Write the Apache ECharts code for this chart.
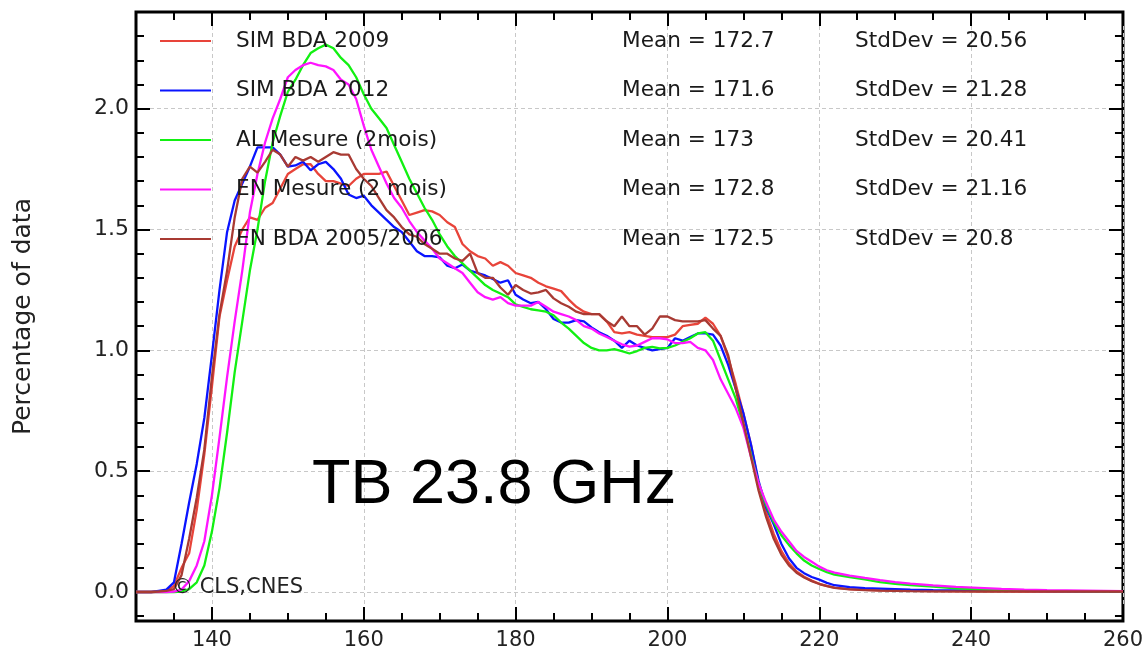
<!DOCTYPE html>
<html>
<head>
<meta charset="utf-8">
<script src="https://cdn.jsdelivr.net/npm/echarts@6/dist/echarts.min.js"></script>
<style>
  html, body { margin: 0; padding: 0; background: #fff; }
  #main { width: 1146px; height: 656px; }
</style>
</head>
<body>
<div id="main"></div>
<script>
// brightness temperature (K)
var tb = [
  130, 131, 132, 133, 134, 135, 136, 137, 138, 139,
  140, 141, 142, 143, 144, 145, 146, 147, 148, 149,
  150, 151, 152, 153, 154, 155, 156, 157, 158, 159,
  160, 161, 162, 163, 164, 165, 166, 167, 168, 169,
  170, 171, 172, 173, 174, 175, 176, 177, 178, 179,
  180, 181, 182, 183, 184, 185, 186, 187, 188, 189,
  190, 191, 192, 193, 194, 195, 196, 197, 198, 199,
  200, 201, 202, 203, 204, 205, 206, 207, 208, 209,
  210, 211, 212, 213, 214, 215, 216, 217, 218, 219,
  220, 221, 222,
  224, 226, 228, 230, 232, 235, 238, 241, 244, 247, 250, 255, 260
];

var simBda2009 = [
  0, 0, 0, 0.002, 0.005, 0.025, 0.10, 0.16, 0.34, 0.57,
  0.85, 1.14, 1.29, 1.43, 1.50, 1.55, 1.54, 1.59, 1.61, 1.67,
  1.73, 1.75, 1.77, 1.77, 1.73, 1.70, 1.70, 1.69, 1.68, 1.71,
  1.73, 1.73, 1.73, 1.74, 1.68, 1.62, 1.56, 1.57, 1.58, 1.575,
  1.56, 1.53, 1.51, 1.44, 1.41, 1.39, 1.38, 1.35, 1.365, 1.35,
  1.32, 1.31, 1.30, 1.28, 1.265, 1.255, 1.245, 1.21, 1.18, 1.16,
  1.15, 1.15, 1.12, 1.075, 1.07, 1.075, 1.065, 1.06, 1.055, 1.055,
  1.055, 1.065, 1.10, 1.105, 1.11, 1.135, 1.11, 1.06, 0.97, 0.86,
  0.74, 0.61, 0.45, 0.33, 0.24, 0.17, 0.12, 0.085, 0.063, 0.047,
  0.034, 0.025, 0.018,
  0.012, 0.009, 0.007, 0.006, 0.005, 0.004, 0.003, 0.003, 0.003, 0.002, 0.002, 0.002, 0.002
];

var simBda2012 = [
  0, 0, 0, 0.005, 0.01, 0.04, 0.20, 0.37, 0.53, 0.72,
  0.98, 1.25, 1.49, 1.62, 1.69, 1.76, 1.84, 1.84, 1.84, 1.81,
  1.76, 1.765, 1.78, 1.745, 1.77, 1.78, 1.75, 1.71, 1.645, 1.63,
  1.64, 1.60, 1.57, 1.54, 1.51, 1.49, 1.45, 1.41, 1.39, 1.39,
  1.385, 1.35, 1.34, 1.355, 1.33, 1.32, 1.31, 1.295, 1.28, 1.29,
  1.23, 1.21, 1.195, 1.20, 1.17, 1.13, 1.115, 1.115, 1.125, 1.12,
  1.095, 1.075, 1.06, 1.04, 1.01, 1.04, 1.02, 1.01, 1.0, 1.005,
  1.01, 1.05, 1.04, 1.055, 1.07, 1.07, 1.065, 1.02, 0.94, 0.84,
  0.74, 0.61, 0.46, 0.35, 0.28, 0.20, 0.14, 0.10, 0.078, 0.062,
  0.051, 0.038, 0.028,
  0.020, 0.016, 0.014, 0.012, 0.010, 0.008, 0.007, 0.006, 0.005, 0.005, 0.004, 0.003, 0.003
];

var alMesure = [
  0, 0, 0, 0, 0, 0, 0.002, 0.012, 0.04, 0.11,
  0.25, 0.43, 0.66, 0.91, 1.12, 1.33, 1.50, 1.70, 1.86, 1.97,
  2.07, 2.12, 2.18, 2.23, 2.25, 2.265, 2.25, 2.21, 2.18, 2.13,
  2.06, 2.00, 1.96, 1.92, 1.85, 1.78, 1.71, 1.65, 1.59, 1.54,
  1.48, 1.43, 1.39, 1.36, 1.33, 1.30, 1.27, 1.25, 1.235, 1.22,
  1.19, 1.18, 1.17, 1.165, 1.16, 1.145, 1.115, 1.09, 1.06, 1.03,
  1.01, 1.0, 1.0, 1.005, 0.997, 0.987, 0.997, 1.01, 1.014, 1.008,
  1.01, 1.02, 1.035, 1.05, 1.07, 1.075, 1.04, 0.96, 0.88, 0.80,
  0.69, 0.57, 0.45, 0.36, 0.29, 0.235, 0.195, 0.16, 0.13, 0.11,
  0.095, 0.082, 0.072,
  0.062, 0.052, 0.041, 0.034, 0.029, 0.022, 0.015, 0.011, 0.008, 0.006, 0.005, 0.004, 0.003
];

var enMesure = [
  0, 0, 0, 0, 0, 0.002, 0.01, 0.045, 0.11, 0.21,
  0.40, 0.64, 0.89, 1.12, 1.33, 1.57, 1.73, 1.86, 1.96, 2.04,
  2.13, 2.16, 2.18, 2.19, 2.18, 2.175, 2.16, 2.12, 2.10, 2.04,
  1.93, 1.83, 1.76, 1.69, 1.63, 1.59, 1.535, 1.49, 1.455, 1.42,
  1.38, 1.36, 1.34, 1.32, 1.28, 1.24, 1.22, 1.21, 1.22, 1.195,
  1.185, 1.185, 1.185, 1.20, 1.18, 1.16, 1.15, 1.14, 1.125, 1.10,
  1.09, 1.07, 1.055, 1.04, 1.025, 1.015, 1.02, 1.035, 1.05, 1.05,
  1.045, 1.03, 1.03, 1.035, 1.01, 1.0, 0.96, 0.88, 0.82, 0.76,
  0.68, 0.56, 0.45, 0.37, 0.30, 0.25, 0.21, 0.17, 0.145, 0.125,
  0.105, 0.09, 0.08,
  0.068, 0.058, 0.049, 0.041, 0.035, 0.027, 0.021, 0.017, 0.013, 0.010, 0.008, 0.006, 0.004
];

var enBda2005 = [
  0, 0, 0, 0.002, 0.005, 0.012, 0.07, 0.22, 0.39, 0.59,
  0.89, 1.15, 1.33, 1.55, 1.71, 1.76, 1.735, 1.78, 1.83, 1.81,
  1.76, 1.80, 1.785, 1.80, 1.78, 1.80, 1.82, 1.81, 1.81, 1.75,
  1.71, 1.68, 1.63, 1.58, 1.55, 1.51, 1.48, 1.47, 1.44, 1.42,
  1.40, 1.40, 1.38, 1.37, 1.40, 1.32, 1.30, 1.30, 1.26, 1.23,
  1.27, 1.25, 1.235, 1.24, 1.25, 1.215, 1.195, 1.18, 1.16, 1.15,
  1.15, 1.15, 1.12, 1.10, 1.14, 1.10, 1.10, 1.065, 1.09, 1.14,
  1.14, 1.125, 1.12, 1.12, 1.12, 1.125, 1.09, 1.06, 0.98, 0.84,
  0.70, 0.56, 0.42, 0.31, 0.22, 0.155, 0.11, 0.08, 0.06, 0.045,
  0.033, 0.024, 0.017,
  0.011, 0.008, 0.006, 0.005, 0.004, 0.003, 0.003, 0.002, 0.002, 0.002, 0.002, 0.002, 0.002
];

var names = ['SIM BDA 2009', 'SIM BDA 2012', 'AL Mesure (2mois)', 'EN Mesure (2 mois)', 'EN BDA 2005/2006'];
var means = ['172.7', '171.6', '173', '172.8', '172.5'];
var stdDevs = ['20.56', '21.28', '20.41', '21.16', '20.8'];
var colors = ['#e8443a', '#0a14ff', '#12f012', '#ff14ff', '#a83a33'];
var allSeries = [simBda2009, simBda2012, alMesure, enMesure, enBda2005];

var xMajor = [140, 160, 180, 200, 220, 240, 260];
var xMinor = [135, 145, 150, 155, 165, 170, 175, 185, 190, 195, 205, 210, 215, 225, 230, 235, 245, 250, 255];
var yMajor = [0, 0.5, 1.0, 1.5, 2.0];
var yMinor = [-0.1, 0.1, 0.2, 0.3, 0.4, 0.6, 0.7, 0.8, 0.9, 1.1, 1.2, 1.3, 1.4, 1.6, 1.7, 1.8, 1.9, 2.1, 2.2, 2.3];

var FONT = 'DejaVu Sans';
var tickStyle = { color: '#000', width: 2 };
var gridLine = { show: true, lineStyle: { color: '#c8c8c8', width: 1, type: [4, 3] } };

function xAxis(pos, ticks, len, main) {
  return {
    type: 'value', min: 130, max: 260, position: pos,
    axisLine: { show: false, onZero: false },
    axisTick: { show: true, inside: true, length: len, customValues: ticks, lineStyle: tickStyle },
    axisLabel: {
      show: main, customValues: xMajor, margin: 9,
      fontFamily: FONT, fontSize: 21, color: '#222'
    },
    splitLine: main ? gridLine : { show: false }
  };
}

function yAxis(pos, ticks, len, main) {
  var ax = {
    type: 'value', min: -0.12, max: 2.4, position: pos,
    axisLine: { show: false, onZero: false },
    axisTick: { show: true, inside: true, length: len, customValues: ticks, lineStyle: tickStyle },
    axisLabel: {
      show: main, customValues: yMajor, margin: 7,
      fontFamily: FONT, fontSize: 22, color: '#222',
      formatter: function (v) { return v.toFixed(1); }
    },
    splitLine: main ? gridLine : { show: false }
  };
  if (main) {
    ax.name = 'Percentage of data';
    ax.nameLocation = 'middle';
    ax.nameGap = 100;
    ax.nameTextStyle = { fontFamily: FONT, fontSize: 25, color: '#222' };
  }
  return ax;
}

var chart = echarts.init(document.getElementById('main'));

var option = {
  animation: false,
  backgroundColor: '#fff',
  color: colors,
  grid: {
    left: 136, right: 22, top: 12, bottom: 35,
    show: true, borderColor: '#000', borderWidth: 3, backgroundColor: 'transparent'
  },
  xAxis: [
    xAxis('bottom', xMajor, 14, true),
    xAxis('bottom', xMinor, 8, false),
    xAxis('top', xMajor, 14, false),
    xAxis('top', xMinor, 8, false)
  ],
  yAxis: [
    yAxis('left', yMajor, 14, true),
    yAxis('left', yMinor, 8, false),
    yAxis('right', yMajor, 14, false),
    yAxis('right', yMinor, 8, false)
  ],
  legend: {
    data: names,
    orient: 'vertical',
    left: 160, top: 30,
    padding: 0,
    itemGap: 27.5,
    itemWidth: 51, itemHeight: 2,
    icon: 'rect',
    selectedMode: false,
    formatter: function (name) {
      var i = names.indexOf(name);
      return '{g| }{n|' + name + '}{m|Mean = ' + means[i] + '}{s|StdDev = ' + stdDevs[i] + '}';
    },
    textStyle: {
      fontFamily: FONT, fontSize: 21.6, color: '#1a1a1a',
      rich: {
        g: { width: 20, fontFamily: FONT, fontSize: 21.6 },
        n: { width: 386, fontFamily: FONT, fontSize: 21.6, color: '#1a1a1a' },
        m: { width: 233, fontFamily: FONT, fontSize: 21.6, color: '#1a1a1a' },
        s: { fontFamily: FONT, fontSize: 21.6, color: '#1a1a1a' }
      }
    }
  },
  graphic: [
    {
      type: 'text', left: 312, top: 454, z: 10,
      style: { text: 'TB 23.8 GHz', fontFamily: 'Liberation Sans', fontSize: 63, fill: '#000' }
    },
    {
      type: 'text', left: 172, top: 577, z: 10,
      style: { text: '\u00a9 CLS,CNES', fontFamily: FONT, fontSize: 21, fill: '#222' }
    }
  ],
  series: allSeries.map(function (vals, i) {
    return {
      name: names[i],
      type: 'line',
      xAxisIndex: 0, yAxisIndex: 0,
      showSymbol: false,
      lineStyle: { width: 2.3, color: colors[i] },
      itemStyle: { color: colors[i] },
      data: tb.map(function (t, k) { return [t, vals[k]]; })
    };
  })
};

chart.setOption(option);
</script>
</body>
</html>
